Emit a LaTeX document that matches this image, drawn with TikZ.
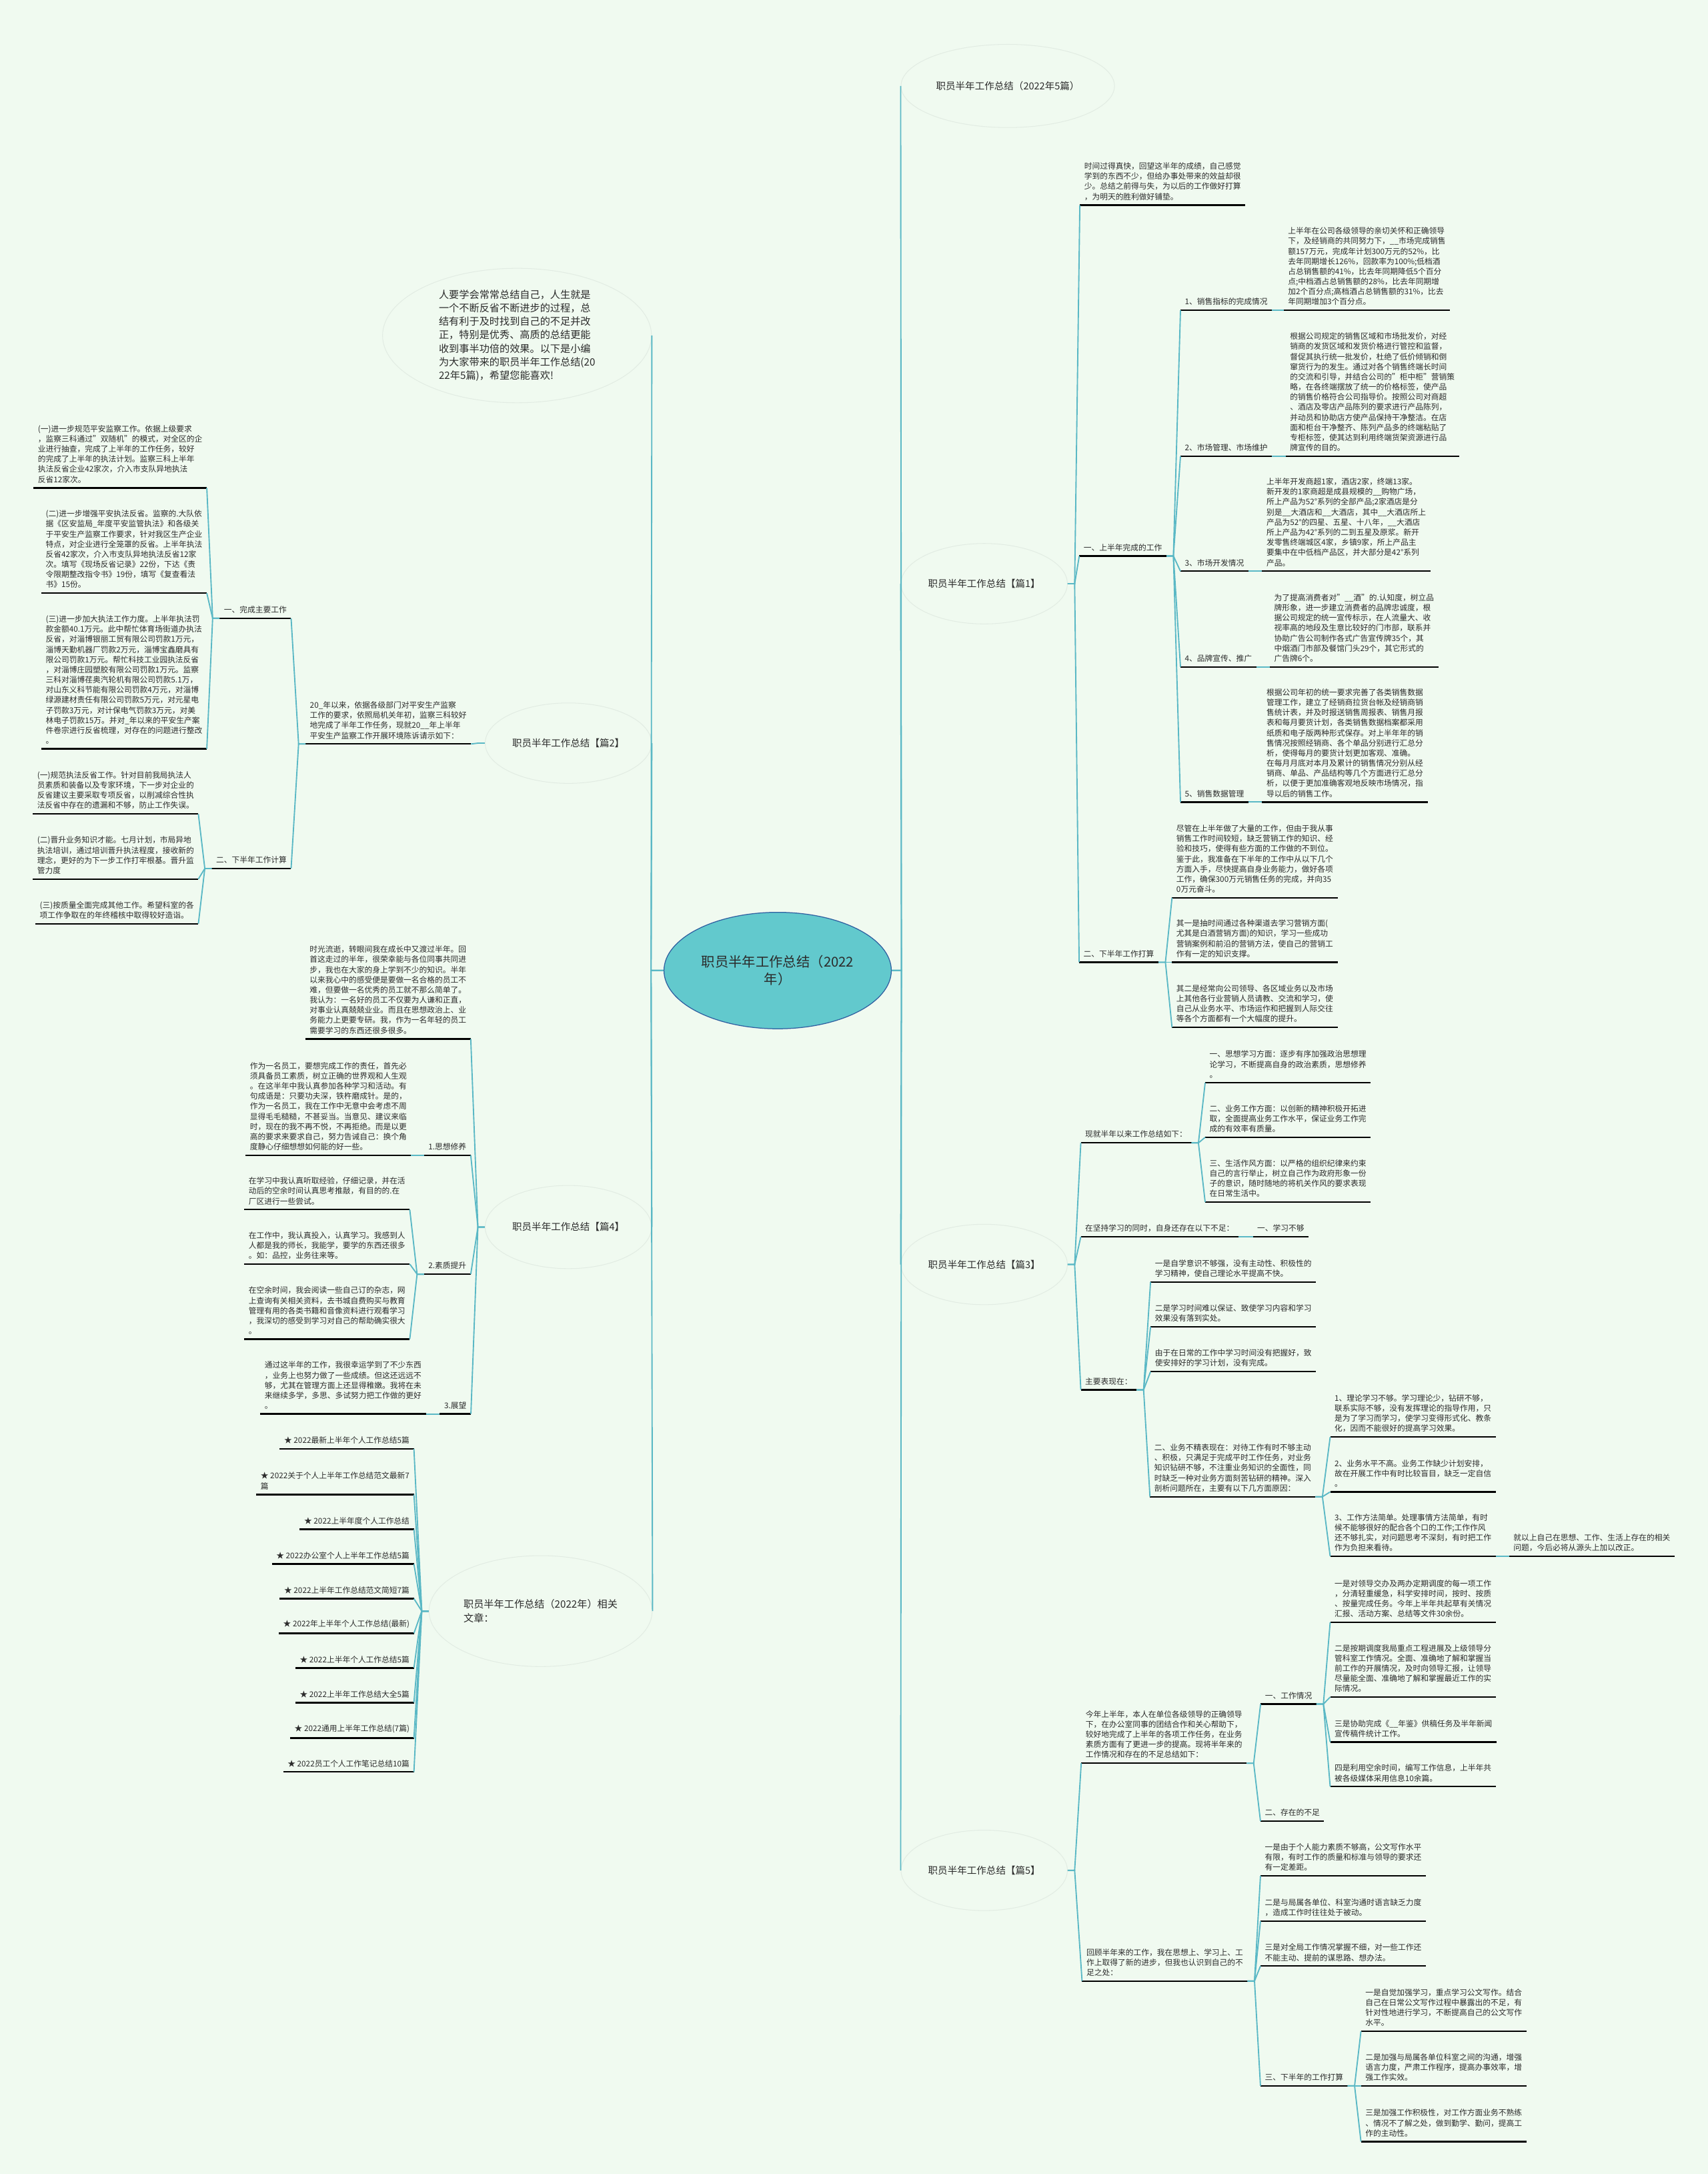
\documentclass[tikz,border=0pt]{standalone}
\usepackage{fontspec}
\setmainfont{Noto Sans CJK SC}
\usetikzlibrary{shapes.geometric}
\definecolor{bgc}{HTML}{F0FAF0}
\definecolor{linkc}{HTML}{5AB8C5}
\definecolor{hubfill}{HTML}{62C9CD}
\definecolor{hubline}{HTML}{2F5FA0}
\definecolor{ring}{HTML}{E2ECE3}
\definecolor{ink}{HTML}{2B2B2B}

\begin{document}
\begin{tikzpicture}[x=1pt,y=-1pt,
  hub/.style={ellipse,draw=hubline,fill=hubfill,line width=0.6pt,minimum width=164,
              minimum height=84,inner sep=0pt,align=center,text=ink,
              font=\fontsize{9.8}{12.5}\selectfont},
  topic/.style={ellipse,draw=ring,line width=0.5pt,minimum width=120,minimum height=58,
                inner sep=0pt,align=center,text=ink,font=\fontsize{7}{9.7}\selectfont},
  leaf/.style={inner xsep=3pt,inner ysep=3.3pt,align=left,text=ink,
               font=\fontsize{5.65}{7.3}\selectfont,
               append after command={(\tikzlastnode.south west) edge[uline] (\tikzlastnode.south east)}},
  rleaf/.style={leaf,anchor=south west},
  lleaf/.style={leaf,anchor=south east},
  uline/.style={draw=black,line width=1.1pt},
  conn/.style={draw=linkc,line width=0.9pt}
]
\fill[bgc] (0,0) rectangle (1232,1568);
\useasboundingbox (0,0) rectangle (1232,1568);

\node[hub] (hub) at (561,700) {职员半年工作总结（2022\\年）};

\node[topic,minimum width=154,minimum height=60] (fivepcs) at (727,62) {职员半年工作总结（2022年5篇）};
\node[topic] (art1) at (710,421) {职员半年工作总结【篇1】};
\node[topic] (art3) at (710,912) {职员半年工作总结【篇3】};
\node[topic] (art5) at (710,1349) {职员半年工作总结【篇5】};

\node[topic,minimum width=194,minimum height=97,align=left,font=\fontsize{7.3}{9.7}\selectfont] (intro) at (373,242) {人要学会常常总结自己，人生就是\\一个不断反省不断进步的过程，总\\结有利于及时找到自己的不足并改\\正，特别是优秀、高质的总结更能\\收到事半功倍的效果。以下是小编\\为大家带来的职员半年工作总结(20\\22年5篇)，希望您能喜欢!};
\node[topic] (art2) at (410,536) {职员半年工作总结【篇2】};
\node[topic,minimum height=60] (art4) at (410,885) {职员半年工作总结【篇4】};
\node[topic,minimum width=161,minimum height=80,align=left,font=\fontsize{7.3}{9.7}\selectfont] (related) at (390,1162) {职员半年工作总结（2022年）相关\\文章：};

% 篇1
\node[rleaf] (a1open) at (779,148) {时间过得真快，回望这半年的成绩，自己感觉\\学到的东西不少，但给办事处带来的效益却很\\少。总结之前得与失，为以后的工作做好打算\\，为明天的胜利做好铺垫。};
\node[rleaf] (a1done) at (778.6,401) {一、上半年完成的工作};
\node[rleaf] (a1sales) at (851.6,223.8) {1、销售指标的完成情况};
\node[rleaf] (a1salesd) at (926,223.8) {上半年在公司各级领导的亲切关怀和正确领导\\下，及经销商的共同努力下，\_\_市场完成销售\\额157万元，完成年计划300万元的52\%，比\\去年同期增长126\%，回款率为100\%;低档酒\\占总销售额的41\%，比去年同期降低5个百分\\点;中档酒占总销售额的28\%，比去年同期增\\加2个百分点;高档酒占总销售额的31\%，比去\\年同期增加3个百分点。};
\node[rleaf] (a1market) at (851.6,329) {2、市场管理、市场维护};
\node[rleaf] (a1marketd) at (927.5,329) {根据公司规定的销售区域和市场批发价，对经\\销商的发货区域和发货价格进行管控和监督，\\督促其执行统一批发价，杜绝了低价倾销和倒\\窜货行为的发生。通过对各个销售终端长时间\\的交流和引导，并结合公司的"柜中柜"营销策\\略，在各终端摆放了统一的价格标签，使产品\\的销售价格符合公司指导价。按照公司对商超\\、酒店及零店产品陈列的要求进行产品陈列，\\并动员和协助店方使产品保持干净整洁。在店\\面和柜台干净整齐、陈列产品多的终端粘贴了\\专柜标签，使其达到利用终端货架资源进行品\\牌宣传的目的。};
\node[rleaf] (a1devel) at (851.6,412) {3、市场开发情况};
\node[rleaf] (a1develd) at (910.5,412) {上半年开发商超1家，酒店2家，终端13家。\\新开发的1家商超是成县规模的\_\_购物广场，\\所上产品为52°系列的全部产品;2家酒店是分\\别是\_\_大酒店和\_\_大酒店，其中\_\_大酒店所上\\产品为52°的四星、五星、十八年，\_\_大酒店\\所上产品为42°系列的二到五星及原浆。新开\\发零售终端城区4家，乡镇9家，所上产品主\\要集中在中低档产品区，并大部分是42°系列\\产品。};
\node[rleaf] (a1brand) at (851.6,481) {4、品牌宣传、推广};
\node[rleaf] (a1brandd) at (916,481) {为了提高消费者对"\_\_酒"的.认知度，树立品\\牌形象，进一步建立消费者的品牌忠诚度，根\\据公司规定的统一宣传标示，在人流量大、收\\视率高的地段及生意比较好的门市部，联系并\\协助广告公司制作各式广告宣传牌35个，其\\中烟酒门市部及餐馆门头29个，其它形式的\\广告牌6个。};
\node[rleaf] (a1data) at (851.6,578.5) {5、销售数据管理};
\node[rleaf] (a1datad) at (910.5,578.5) {根据公司年初的统一要求完善了各类销售数据\\管理工作，建立了经销商拉货台帐及经销商销\\售统计表，并及时报送销售周报表、销售月报\\表和每月要货计划，各类销售数据档案都采用\\纸质和电子版两种形式保存。对上半年年的销\\售情况按照经销商、各个单品分别进行汇总分\\析，使得每月的要货计划更加客观、准确。\\在每月月底对本月及累计的销售情况分别从经\\销商、单品、产品结构等几个方面进行汇总分\\析，以便于更加准确客观地反映市场情况，指\\导以后的销售工作。};
\node[rleaf] (a1plan) at (778.5,694) {二、下半年工作打算};
\node[rleaf] (a1plan1) at (845.5,647.5) {尽管在上半年做了大量的工作，但由于我从事\\销售工作时间较短，缺乏营销工作的知识、经\\验和技巧，使得有些方面的工作做的不到位。\\鉴于此，我准备在下半年的工作中从以下几个\\方面入手，尽快提高自身业务能力，做好各项\\工作，确保300万元销售任务的完成，并向35\\0万元奋斗。};
\node[rleaf] (a1plan2) at (845.5,694) {其一是抽时间通过各种渠道去学习营销方面(\\尤其是白酒营销方面)的知识，学习一些成功\\营销案例和前沿的营销方法，使自己的营销工\\作有一定的知识支撑。};
\node[rleaf] (a1plan3) at (845.5,741) {其二是经常向公司领导、各区域业务以及市场\\上其他各行业营销人员请教、交流和学习，使\\自己从业务水平、市场运作和把握到人际交往\\等各个方面都有一个大幅度的提升。};

% 篇3
\node[rleaf] (a3sum) at (779.7,824.3) {现就半年以来工作总结如下：};
\node[rleaf] (a3sum1) at (869.4,781) {一、思想学习方面：逐步有序加强政治思想理\\论学习，不断提高自身的政治素质，思想修养\\。};
\node[rleaf] (a3sum2) at (869.4,820.3) {二、业务工作方面：以创新的精神积极开拓进\\取，全面提高业务工作水平，保证业务工作完\\成的有效率有质量。};
\node[rleaf] (a3sum3) at (869.4,867) {三、生活作风方面：以严格的组织纪律来约束\\自己的言行举止，树立自己作为政府形象一份\\子的意识，随时随地的将机关作风的要求表现\\在日常生活中。};
\node[rleaf] (a3lack) at (779.7,892) {在坚持学习的同时，自身还存在以下不足：};
\node[rleaf] (a3lackd) at (903.8,892) {一、学习不够};
\node[rleaf] (a3show) at (779.7,1002.4) {主要表现在：};
\node[rleaf] (a3show1) at (830,924.6) {一是自学意识不够强，没有主动性、积极性的\\学习精神，使自己理论水平提高不快。};
\node[rleaf] (a3show2) at (830,957) {二是学习时间难以保证、致使学习内容和学习\\效果没有落到实处。};
\node[rleaf] (a3show3) at (830,989.3) {由于在日常的工作中学习时间没有把握好，致\\使安排好的学习计划，没有完成。};
\node[rleaf] (a3show4) at (829.6,1079.5) {二、业务不精表现在：对待工作有时不够主动\\、积极，只满足于完成平时工作任务，对业务\\知识钻研不够，不注重业务知识的全面性，同\\时缺乏一种对业务方面刻苦钻研的精神。深入\\剖析问题所在，主要有以下几方面原因：};
\node[rleaf] (a3cause1) at (959.6,1036.4) {1、理论学习不够。学习理论少，钻研不够，\\联系实际不够，没有发挥理论的指导作用，只\\是为了学习而学习，使学习变得形式化、教条\\化，因而不能很好的提高学习效果。};
\node[rleaf] (a3cause2) at (959.6,1076) {2、业务水平不高。业务工作缺少计划安排，\\故在开展工作中有时比较盲目，缺乏一定自信\\。};
\node[rleaf] (a3cause3) at (959.6,1122.5) {3、工作方法简单。处理事情方法简单，有时\\候不能够很好的配合各个口的工作;工作作风\\还不够扎实，对问题思考不深刻，有时把工作\\作为负担来看待。};
\node[rleaf] (a3fix) at (1088.7,1122.5) {就以上自己在思想、工作、生活上存在的相关\\问题，今后必将从源头上加以改正。};

% 篇5
\node[rleaf] (a5open) at (780,1271.7) {今年上半年，本人在单位各级领导的正确领导\\下，在办公室同事的团结合作和关心帮助下，\\较好地完成了上半年的各项工作任务，在业务\\素质方面有了更进一步的提高。现将半年来的\\工作情况和存在的不足总结如下：};
\node[rleaf] (a5work) at (909.4,1229) {一、工作情况};
\node[rleaf] (a5work1) at (959.6,1170) {一是对领导交办及两办定期调度的每一项工作\\，分清轻重缓急，科学安排时间，按时、按质\\、按量完成任务。今年上半年共起草有关情况\\汇报、活动方案、总结等文件30余份。};
\node[rleaf] (a5work2) at (959.6,1224) {二是按期调度我局重点工程进展及上级领导分\\管科室工作情况。全面、准确地了解和掌握当\\前工作的开展情况，及时向领导汇报，让领导\\尽量能全面、准确地了解和掌握最近工作的实\\际情况。};
\node[rleaf] (a5work3) at (959.6,1256.5) {三是协助完成《\_\_年鉴》供稿任务及半年新闻\\宣传稿件统计工作。};
\node[rleaf] (a5work4) at (959.6,1288.6) {四是利用空余时间，编写工作信息，上半年共\\被各级媒体采用信息10余篇。};
\node[rleaf] (a5short) at (909.3,1313.4) {二、存在的不足};
\node[rleaf] (a5look) at (780.6,1428.8) {回顾半年来的工作，我在思想上、学习上、工\\作上取得了新的进步，但我也认识到自己的不\\足之处：};
\node[rleaf] (a5look1) at (909.3,1353) {一是由于个人能力素质不够高，公文写作水平\\有限，有时工作的质量和标准与领导的要求还\\有一定差距。};
\node[rleaf] (a5look2) at (909.3,1385.6) {二是与局属各单位、科室沟通时语言缺乏力度\\，造成工作时往往处于被动。};
\node[rleaf] (a5look3) at (909.3,1418) {三是对全局工作情况掌握不细，对一些工作还\\不能主动、提前的谋思路、想办法。};
\node[rleaf] (a5next) at (909.3,1504.4) {三、下半年的工作打算};
\node[rleaf] (a5next1) at (981.8,1465) {一是自觉加强学习，重点学习公文写作。结合\\自己在日常公文写作过程中暴露出的不足，有\\针对性地进行学习，不断提高自己的公文写作\\水平。};
\node[rleaf] (a5next2) at (981.8,1504.4) {二是加强与局属各单位科室之间的沟通，增强\\语言力度，严肃工作程序，提高办事效率，增\\强工作实效。};
\node[rleaf] (a5next3) at (981.8,1544.6) {三是加强工作积极性，对工作方面业务不熟练\\、情况不了解之处，做到勤学、勤问，提高工\\作的主动性。};

% 篇2
\node[lleaf] (a2base) at (339.8,536.6) {20\_年以来，依据各级部门对平安生产监察\\工作的要求，依照局机关年初，监察三科较好\\地完成了半年工作任务，现就20\_\_年上半年\\平安生产监察工作开展环境陈诉请示如下：};
\node[lleaf] (a2done) at (210,445.9) {一、完成主要工作};
\node[lleaf] (a2done1) at (149.2,351.9) {(一)进一步规范平安监察工作。依据上级要求\\，监察三科通过"双随机"的模式，对全区的企\\业进行抽查，完成了上半年的工作任务，较好\\的完成了上半年的执法计划。监察三科上半年\\执法反省企业42家次，介入市支队异地执法\\反省12家次。};
\node[lleaf] (a2done2) at (149.2,427.8) {(二)进一步增强平安执法反省。监察的.大队依\\据《区安监局\_年度平安监管执法》和各级关\\于平安生产监察工作要求，针对我区生产企业\\特点，对企业进行全笼罩的反省。上半年执法\\反省42家次，介入市支队异地执法反省12家\\次。填写《现场反省记录》22份，下达《责\\令限期整改指令书》19份，填写《复查看法\\书》15份。};
\node[lleaf] (a2done3) at (149.2,540.1) {(三)进一步加大执法工作力度。上半年执法罚\\款金额40.1万元。此中帮忙体育场街道办执法\\反省，对淄博银丽工贸有限公司罚款1万元，\\淄博天勤机器厂罚款2万元，淄博宝鑫磨具有\\限公司罚款1万元。帮忙科技工业园执法反省\\，对淄博庄园塑胶有限公司罚款1万元。监察\\三科对淄博荏奥汽轮机有限公司罚款5.1万，\\对山东义科节能有限公司罚款4万元，对淄博\\绿源建材责任有限公司罚款5万元，对元星电\\子罚款3万元，对计保电气罚款3万元，对美\\林电子罚款15万。并对\_年以来的平安生产案\\件卷宗进行反省梳理，对存在的问题进行整改\\。};
\node[lleaf] (a2plan) at (210,626.4) {二、下半年工作计算};
\node[lleaf] (a2plan1) at (143.1,587.1) {(一)规范执法反省工作。针对目前我局执法人\\员素质和装备以及专家环境，下一步对企业的\\反省建议主要采取专项反省，以削减综合性执\\法反省中存在的遗漏和不够，防止工作失误。};
\node[lleaf] (a2plan2) at (143.1,634) {(二)晋升业务知识才能。七月计划，市局异地\\执法培训，通过培训晋升执法程度，接收新的\\理念，更好的为下一步工作打牢根基。晋升监\\管力度};
\node[lleaf] (a2plan3) at (143.1,666.2) {(三)按质量全面完成其他工作。希望科室的各\\项工作争取在的年终稽核中取得较好造诣。};

% 篇4
\node[lleaf] (a4open) at (339.6,749.3) {时光流逝，转眼间我在成长中又渡过半年。回\\首这走过的半年，很荣幸能与各位同事共同进\\步，我也在大家的身上学到不少的知识。半年\\以来我心中的感受便是要做一名合格的员工不\\难，但要做一名优秀的员工就不那么简单了。\\我认为：一名好的员工不仅要为人谦和正直，\\对事业认真兢兢业业。而且在思想政治上、业\\务能力上更要专研。我，作为一名年轻的员工\\需要学习的东西还很多很多。};
\node[lleaf] (a4mind) at (339.6,833.2) {1.思想修养};
\node[lleaf] (a4mindd) at (296.6,833.2) {作为一名员工，要想完成工作的责任，首先必\\须具备员工素质，树立正确的世界观和人生观\\。在这半年中我认真参加各种学习和活动。有\\句成语是：只要功夫深，铁杵磨成针。是的，\\作为一名员工，我在工作中无意中会考虑不周\\显得毛毛糙糙，不甚妥当。当意见、建议来临\\时，现在的我不再不悦，不再拒绝。而是以更\\高的要求来要求自己，努力告诫自己：换个角\\度静心仔细想想如何能的好一些。};
\node[lleaf] (a4skill) at (339.6,919) {2.素质提升};
\node[lleaf] (a4skill1) at (295.6,872.4) {在学习中我认真听取经验，仔细记录，并在活\\动后的空余时间认真思考推敲，有目的的.在\\厂区进行一些尝试。};
\node[lleaf] (a4skill2) at (295.6,911.7) {在工作中，我认真投入，认真学习。我感到人\\人都是我的师长，我能学，要学的东西还很多\\。如：品控，业务往来等。};
\node[lleaf] (a4skill3) at (295.6,965.9) {在空余时间，我会阅读一些自己订的杂志，网\\上查询有关相关资料，去书城自费购买与教育\\管理有用的各类书籍和音像资料进行观看学习\\，我深切的感受到学习对自己的帮助确实很大\\。};
\node[lleaf] (a4view) at (339.7,1019.8) {3.展望};
\node[lleaf] (a4viewd) at (307.2,1019.8) {通过这半年的工作，我很幸运学到了不少东西\\，业务上也努力做了一些成绩。但这还远远不\\够，尤其在管理方面上还显得稚嫩。我将在未\\来继续多学，多思、多试努力把工作做的更好\\。};

% related articles
\node[lleaf] (rel1) at (298.6,1045) {★ 2022最新上半年个人工作总结5篇};
\node[lleaf] (rel2) at (298.6,1077.9) {★ 2022关于个人上半年工作总结范文最新7\\篇};
\node[lleaf] (rel3) at (298.6,1103) {★ 2022上半年度个人工作总结};
\node[lleaf] (rel4) at (298.6,1128) {★ 2022办公室个人上半年工作总结5篇};
\node[lleaf] (rel5) at (298.6,1153) {★ 2022上半年工作总结范文简短7篇};
\node[lleaf] (rel6) at (298.6,1178) {★ 2022年上半年个人工作总结(最新)};
\node[lleaf] (rel7) at (298.6,1203) {★ 2022上半年个人工作总结5篇};
\node[lleaf] (rel8) at (298.6,1228) {★ 2022上半年工作总结大全5篇};
\node[lleaf] (rel9) at (298.6,1253.6) {★ 2022通用上半年工作总结(7篇)};
\node[lleaf] (rel10) at (298.6,1278) {★ 2022员工个人工作笔记总结10篇};

\draw[conn] (hub.east) -- ++(7,0) -- (fivepcs.west);
\draw[conn] (hub.east) -- ++(7,0) -- (art1.west);
\draw[conn] (hub.east) -- ++(7,0) -- (art3.west);
\draw[conn] (hub.east) -- ++(7,0) -- (art5.west);
\draw[conn] (hub.west) -- ++(-9,0) -- (intro.east);
\draw[conn] (hub.west) -- ++(-9,0) -- (art2.east);
\draw[conn] (hub.west) -- ++(-9,0) -- (art4.east);
\draw[conn] (hub.west) -- ++(-9,0) -- (related.east);

\draw[conn] (art1.east) -- ++(5,0) -- (a1open.south west);
\draw[conn] (art1.east) -- ++(5,0) -- (a1done.south west);
\draw[conn] (art1.east) -- ++(5,0) -- (a1plan.south west);
\draw[conn] (a1done.south east) -- ++(5,0) -- (a1sales.south west);
\draw[conn] (a1done.south east) -- ++(5,0) -- (a1market.south west);
\draw[conn] (a1done.south east) -- ++(5,0) -- (a1devel.south west);
\draw[conn] (a1done.south east) -- ++(5,0) -- (a1brand.south west);
\draw[conn] (a1done.south east) -- ++(5,0) -- (a1data.south west);
\draw[conn] (a1sales.south east) -- (a1salesd.south west);
\draw[conn] (a1market.south east) -- (a1marketd.south west);
\draw[conn] (a1devel.south east) -- (a1develd.south west);
\draw[conn] (a1brand.south east) -- (a1brandd.south west);
\draw[conn] (a1data.south east) -- (a1datad.south west);
\draw[conn] (a1plan.south east) -- ++(5,0) -- (a1plan1.south west);
\draw[conn] (a1plan.south east) -- ++(5,0) -- (a1plan2.south west);
\draw[conn] (a1plan.south east) -- ++(5,0) -- (a1plan3.south west);

\draw[conn] (art3.east) -- ++(5,0) -- (a3sum.south west);
\draw[conn] (art3.east) -- ++(5,0) -- (a3lack.south west);
\draw[conn] (art3.east) -- ++(5,0) -- (a3show.south west);
\draw[conn] (a3sum.south east) -- ++(5,0) -- (a3sum1.south west);
\draw[conn] (a3sum.south east) -- ++(5,0) -- (a3sum2.south west);
\draw[conn] (a3sum.south east) -- ++(5,0) -- (a3sum3.south west);
\draw[conn] (a3lack.south east) -- (a3lackd.south west);
\draw[conn] (a3show.south east) -- ++(5,0) -- (a3show1.south west);
\draw[conn] (a3show.south east) -- ++(5,0) -- (a3show2.south west);
\draw[conn] (a3show.south east) -- ++(5,0) -- (a3show3.south west);
\draw[conn] (a3show.south east) -- ++(5,0) -- (a3show4.south west);
\draw[conn] (a3show4.south east) -- ++(5,0) -- (a3cause1.south west);
\draw[conn] (a3show4.south east) -- ++(5,0) -- (a3cause2.south west);
\draw[conn] (a3show4.south east) -- ++(5,0) -- (a3cause3.south west);
\draw[conn] (a3cause3.south east) -- (a3fix.south west);

\draw[conn] (art5.east) -- ++(5,0) -- (a5open.south west);
\draw[conn] (art5.east) -- ++(5,0) -- (a5look.south west);
\draw[conn] (a5open.south east) -- ++(5,0) -- (a5work.south west);
\draw[conn] (a5open.south east) -- ++(5,0) -- (a5short.south west);
\draw[conn] (a5work.south east) -- ++(5,0) -- (a5work1.south west);
\draw[conn] (a5work.south east) -- ++(5,0) -- (a5work2.south west);
\draw[conn] (a5work.south east) -- ++(5,0) -- (a5work3.south west);
\draw[conn] (a5work.south east) -- ++(5,0) -- (a5work4.south west);
\draw[conn] (a5look.south east) -- ++(5,0) -- (a5look1.south west);
\draw[conn] (a5look.south east) -- ++(5,0) -- (a5look2.south west);
\draw[conn] (a5look.south east) -- ++(5,0) -- (a5look3.south west);
\draw[conn] (a5look.south east) -- ++(5,0) -- (a5next.south west);
\draw[conn] (a5next.south east) -- ++(5,0) -- (a5next1.south west);
\draw[conn] (a5next.south east) -- ++(5,0) -- (a5next2.south west);
\draw[conn] (a5next.south east) -- ++(5,0) -- (a5next3.south west);

\draw[conn] (art2.west) -- ++(-5,0) -- (a2base.south east);
\draw[conn] (a2base.south west) -- ++(-5,0) -- (a2done.south east);
\draw[conn] (a2base.south west) -- ++(-5,0) -- (a2plan.south east);
\draw[conn] (a2done.south west) -- ++(-5,0) -- (a2done1.south east);
\draw[conn] (a2done.south west) -- ++(-5,0) -- (a2done2.south east);
\draw[conn] (a2done.south west) -- ++(-5,0) -- (a2done3.south east);
\draw[conn] (a2plan.south west) -- ++(-5,0) -- (a2plan1.south east);
\draw[conn] (a2plan.south west) -- ++(-5,0) -- (a2plan2.south east);
\draw[conn] (a2plan.south west) -- ++(-5,0) -- (a2plan3.south east);

\draw[conn] (art4.west) -- ++(-5,0) -- (a4open.south east);
\draw[conn] (art4.west) -- ++(-5,0) -- (a4mind.south east);
\draw[conn] (art4.west) -- ++(-5,0) -- (a4skill.south east);
\draw[conn] (art4.west) -- ++(-5,0) -- (a4view.south east);
\draw[conn] (a4mind.south west) -- (a4mindd.south east);
\draw[conn] (a4skill.south west) -- ++(-5,0) -- (a4skill1.south east);
\draw[conn] (a4skill.south west) -- ++(-5,0) -- (a4skill2.south east);
\draw[conn] (a4skill.south west) -- ++(-5,0) -- (a4skill3.south east);
\draw[conn] (a4view.south west) -- (a4viewd.south east);

\draw[conn] (related.west) -- ++(-5,0) -- (rel1.south east);
\draw[conn] (related.west) -- ++(-5,0) -- (rel2.south east);
\draw[conn] (related.west) -- ++(-5,0) -- (rel3.south east);
\draw[conn] (related.west) -- ++(-5,0) -- (rel4.south east);
\draw[conn] (related.west) -- ++(-5,0) -- (rel5.south east);
\draw[conn] (related.west) -- ++(-5,0) -- (rel6.south east);
\draw[conn] (related.west) -- ++(-5,0) -- (rel7.south east);
\draw[conn] (related.west) -- ++(-5,0) -- (rel8.south east);
\draw[conn] (related.west) -- ++(-5,0) -- (rel9.south east);
\draw[conn] (related.west) -- ++(-5,0) -- (rel10.south east);
\end{tikzpicture}
\end{document}
